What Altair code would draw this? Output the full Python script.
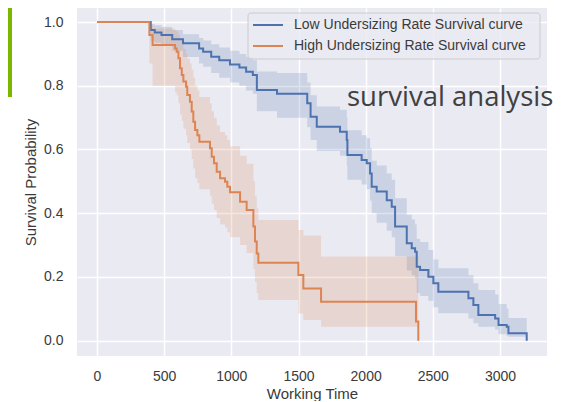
import altair as alt
import pandas as pd

# ---------------- data ----------------
groups = ["Low Undersizing Rate Survival curve", "High Undersizing Rate Survival curve"]
colors = ["#4C72B0", "#DD8452"]

low_time = [0, 400, 430, 480, 560, 640, 760, 790, 850, 910,
            990, 1060, 1110, 1160, 1190, 1340, 1565, 1590, 1636, 1809,
            1859, 1864, 1970, 2008, 2033, 2045, 2082, 2157, 2194, 2219,
            2306, 2343, 2368, 2380, 2405, 2467, 2504, 2541, 2765, 2802,
            2839, 2964, 2989, 3050, 3063, 3199]
low_surv = [1.0, 0.975, 0.967, 0.959, 0.946, 0.933, 0.917, 0.907, 0.891, 0.880,
            0.867, 0.857, 0.844, 0.834, 0.787, 0.775, 0.745, 0.703, 0.671, 0.656,
            0.630, 0.583, 0.567, 0.557, 0.525, 0.483, 0.468, 0.441, 0.420, 0.358,
            0.306, 0.290, 0.279, 0.232, 0.222, 0.201, 0.180, 0.154, 0.133, 0.112,
            0.081, 0.070, 0.049, 0.044, 0.023, 0.0]
low_lower = [1.0, 0.94, 0.935, 0.925, 0.91, 0.89, 0.87, 0.86, 0.84, 0.825,
             0.81, 0.80, 0.785, 0.775, 0.72, 0.70, 0.67, 0.63, 0.595, 0.58,
             0.55, 0.505, 0.49, 0.475, 0.44, 0.40, 0.37, 0.345, 0.325, 0.265,
             0.22, 0.205, 0.195, 0.15, 0.14, 0.125, 0.105, 0.086, 0.07, 0.055,
             0.044, 0.035, 0.02, 0.015, 0.0125, 0.0]
low_upper = [1.0, 0.993, 0.99, 0.985, 0.975, 0.962, 0.95, 0.942, 0.93, 0.92,
             0.91, 0.90, 0.89, 0.88, 0.845, 0.84, 0.81, 0.77, 0.735, 0.725,
             0.70, 0.66, 0.645, 0.635, 0.605, 0.565, 0.55, 0.525, 0.505, 0.447,
             0.395, 0.38, 0.365, 0.32, 0.31, 0.285, 0.255, 0.227, 0.205, 0.18,
             0.159, 0.145, 0.115, 0.10, 0.071, 0.0]

high_time = [0, 390, 414, 581, 593, 606, 618, 631, 643, 663,
             672, 692, 705, 717, 730, 747, 762, 841, 854, 871,
             891, 916, 953, 970, 990, 1065, 1114, 1164, 1176, 1189,
             1201, 1499, 1536, 1668, 2375, 2392]
high_surv = [1.0, 0.959, 0.928, 0.917, 0.907, 0.886, 0.855, 0.834, 0.813, 0.797,
             0.771, 0.75, 0.719, 0.687, 0.661, 0.645, 0.624, 0.604, 0.577, 0.557,
             0.530, 0.51, 0.499, 0.483, 0.466, 0.436, 0.41, 0.358, 0.311, 0.274,
             0.245, 0.206, 0.164, 0.122, 0.06, 0.0]
high_lower = [1.0, 0.87, 0.80, 0.78, 0.77, 0.745, 0.71, 0.69, 0.665, 0.645,
              0.62, 0.60, 0.57, 0.54, 0.51, 0.495, 0.475, 0.455, 0.43, 0.41,
              0.385, 0.365, 0.355, 0.34, 0.325, 0.30, 0.275, 0.225, 0.185, 0.15,
              0.128, 0.085, 0.065, 0.044, 0.044, 0.0]
high_upper = [1.0, 0.995, 0.98, 0.975, 0.97, 0.96, 0.945, 0.93, 0.915, 0.90,
              0.885, 0.87, 0.85, 0.825, 0.80, 0.785, 0.765, 0.745, 0.72, 0.70,
              0.675, 0.655, 0.645, 0.63, 0.61, 0.58, 0.555, 0.50, 0.455, 0.415,
              0.379, 0.347, 0.33, 0.264, 0.264, 0.0]

x_ticks = [0, 500, 1000, 1500, 2000, 2500, 3000]
y_ticks = [0.0, 0.2, 0.4, 0.6, 0.8, 1.0]
overlay_text = ["survival analysis"]

# ---------------- build table ----------------
frames = []
for g, t, s, lo, hi in [
    (groups[0], low_time, low_surv, low_lower, low_upper),
    (groups[1], high_time, high_surv, high_lower, high_upper),
]:
    frames.append(pd.DataFrame({"group": g, "time": t, "surv": s, "lower": lo, "upper": hi}))
df = pd.concat(frames, ignore_index=True)

one = pd.DataFrame({"k": [0]})

FONT = "Liberation Sans"
TEXT_COLOR = "#3a3a3a"

x_scale = alt.Scale(domain=[-149, 3350], nice=False, zero=False)
y_scale = alt.Scale(domain=[-0.048, 1.044], nice=False, zero=False)
color_scale = alt.Scale(domain=groups, range=colors)

x_axis = alt.Axis(values=x_ticks, format="d", title="Working Time", labelPadding=13,
                  titleBaseline="alphabetic", titleY=42)
y_axis = alt.Axis(values=y_ticks, format=".1f", title="Survival Probability",
                  labelPadding=14, titleBaseline="alphabetic", titleX=-42)

base = alt.Chart(df)

bands = base.mark_area(interpolate="step-after", opacity=0.2).encode(
    x=alt.X("time:Q", scale=x_scale, axis=x_axis),
    y=alt.Y("lower:Q", scale=y_scale, axis=y_axis, stack=None),
    y2="upper:Q",
    color=alt.Color("group:N", scale=color_scale, legend=None),
)

lines = base.mark_line(interpolate="step-after", strokeWidth=2).encode(
    x=alt.X("time:Q", scale=x_scale),
    y=alt.Y("surv:Q", scale=y_scale),
    color=alt.Color("group:N", scale=color_scale, legend=None),
)

# ---------------- legend (drawn manually to match matplotlib style) ----------------
legend_box = alt.Chart(one).mark_rect(
    fill="#EAEAF2", fillOpacity=0.8, stroke="#CCCCCC", strokeWidth=1, cornerRadius=3
).encode(x=alt.value(171), x2=alt.value(463), y=alt.value(5), y2=alt.value(51))

legend_layers = []
for i, (g, c) in enumerate(zip(groups, colors)):
    yy = 17 + 21 * i
    legend_layers.append(
        alt.Chart(one).mark_rule(color=c, strokeWidth=2).encode(
            x=alt.value(176), x2=alt.value(206), y=alt.value(yy)
        )
    )
    legend_layers.append(
        alt.Chart(pd.DataFrame({"label": [g]})).mark_text(
            align="left", baseline="middle", font=FONT, fontSize=14, color=TEXT_COLOR
        ).encode(x=alt.value(217), y=alt.value(yy), text="label:N")
    )

title_text = alt.Chart(pd.DataFrame({"t": overlay_text})).mark_text(
    align="left", baseline="alphabetic", font="Open Sans", fontSize=27.5, color="#404040"
).encode(x=alt.value(270), y=alt.value(98), text="t:N")

green_bar = alt.Chart(one).mark_rect(color="#7AB800").encode(
    x=alt.value(-69), x2=alt.value(-65), y=alt.value(0), y2=alt.value(89)
)

chart = alt.layer(
    bands, lines, legend_box, *legend_layers, title_text, green_bar
).properties(
    width=470,
    height=348,
    autosize=alt.AutoSizeParams(type="none"),
    padding={"left": 69, "top": 0, "right": 9, "bottom": 45},
).configure_view(
    fill="#EAEAF2", stroke=None
).configure_axis(
    domain=False, ticks=False, tickSize=0,
    grid=True, gridColor="#FFFFFF", gridWidth=1.5,
    labelFont=FONT, labelFontSize=14, labelColor=TEXT_COLOR,
    titleFont=FONT, titleFontSize=15, titleFontWeight="normal", titleColor=TEXT_COLOR,
)

chart.save("out.html", embed_options={"renderer": "svg", "actions": False})
